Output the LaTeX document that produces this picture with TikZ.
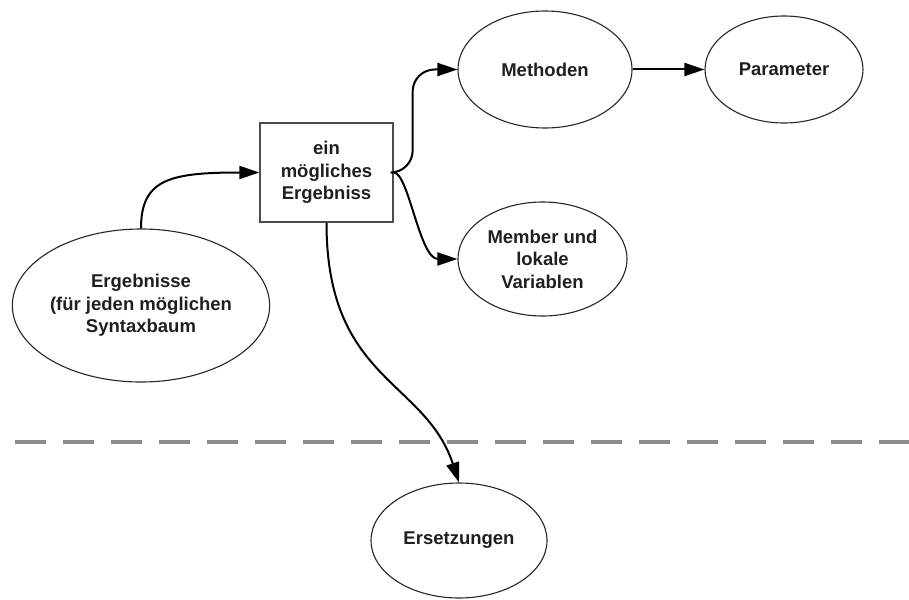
\documentclass[tikz,border=0pt]{standalone}
\usepackage{fontspec}
\setmainfont{Liberation Sans}
\usetikzlibrary{shapes.geometric,arrows.meta}
\begin{document}
\begin{tikzpicture}[x=1pt,y=-1pt,
  txt/.style={font=\bfseries\fontsize{18.5}{22.5}\selectfont,text=black!88,align=center},
  oval/.style={ellipse,draw=black!85,line width=1.1pt,inner sep=0pt,txt},
  resultbox/.style={rectangle,draw=black!70,line width=1.3pt,inner sep=0pt,txt},
  link/.style={line width=2pt,draw=black,-{Triangle[length=20pt,width=13pt]}},
  divider/.style={line width=4pt,draw=black!45,dash pattern=on 31pt off 17pt,dash phase=33pt}]
\useasboundingbox (0,0) rectangle (909,599);

% nodes
\node[resultbox,minimum width=133pt,minimum height=99pt] (erg) at (326.5,172.5) {ein\\mögliches\\Ergebniss};
\node[oval,minimum width=228pt,minimum height=153pt] (alle) at (141,305.5) {Ergebnisse\\(für jeden möglichen\\Syntaxbaum};
\node[oval,minimum width=174pt,minimum height=117pt] (meth) at (545,69.5) {Methoden};
\node[oval,minimum width=158pt,minimum height=107pt] (param) at (784,69.5) {Parameter};
\node[oval,minimum width=169pt,minimum height=114pt] (mem) at (542.5,259) {Member und\\lokale\\Variablen};
\node[oval,minimum width=176pt,minimum height=115pt] (ers) at (459,540.5) {Ersetzungen};

% dashed separator
\draw[divider] (0,441.5) -- (909,441.5);

% connectors
\draw[link] (alle.north) .. controls +(0,-49) and +(-90,0) .. (erg.west);
\draw[link,rounded corners=22pt] (erg.east) -- ++(19,0) |- (meth.west);
\draw[link] (erg.east) .. controls +(15,0) and +(-38,0) .. (mem.west);
\draw[link] (meth.east) -- (param.west);
\draw[link] (erg.south) .. controls +(0,158) and +(-34,-103) .. (ers.north);
\end{tikzpicture}
\end{document}
